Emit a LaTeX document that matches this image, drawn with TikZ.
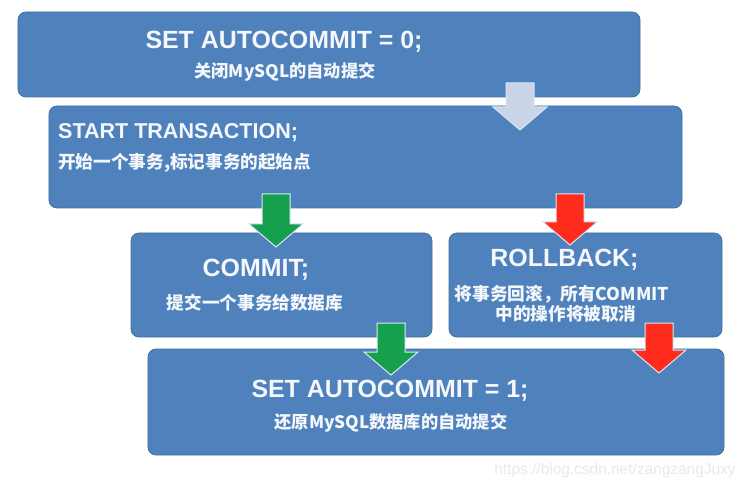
\documentclass[tikz,border=0pt]{standalone}
\usepackage{fontspec}
\setmainfont{Liberation Sans}
\newfontfamily\cjk{Noto Sans CJK SC}
\usepackage{xcolor}
\definecolor{cBox}{HTML}{4F81BD}
\definecolor{cBoxEdge}{HTML}{41709F}
\definecolor{cText}{HTML}{F4F7FB}
\definecolor{cGo}{HTML}{16A04E}
\definecolor{cStop}{HTML}{FF2B1C}
\definecolor{cNext}{HTML}{C9D4E6}
\definecolor{cRim}{HTML}{DDE7F3}
\definecolor{cMark}{HTML}{E9E9E9}
\usetikzlibrary{calc}
\tikzset{
  node-box/.style={draw=cBoxEdge,line width=0.8bp,fill=cBox,rounded corners=8bp,
    inner sep=0pt,outer sep=0pt},
  node-title/.style={text=cText,anchor=base,inner sep=0pt,
    font=\bfseries\fontsize{25}{30}\selectfont},
  node-sub/.style={text=cText,anchor=base,inner sep=0pt,
    font=\cjk\bfseries\fontsize{17.7}{20}\selectfont},
  node-mark/.style={text=cMark,anchor=base,inner sep=0pt,
    font=\fontsize{15.5}{18}\selectfont},
  arrow-block/.style={draw=cRim,line width=1bp,line join=miter},
}
% block arrow: colour, x, from box, to box, depth of the tip in the target box
\newcommand\flowarrow[5]{%
  \path[arrow-block,fill=#1] let \p1=(#3.south), \p2=(#4.north) in
    (#2bp-14bp,\y1+14bp) -- (#2bp+14bp,\y1+14bp) -- (#2bp+14bp,\y2-#5bp+23bp)
    -- (#2bp+27bp,\y2-#5bp+23bp) -- (#2bp,\y2-#5bp) -- (#2bp-27bp,\y2-#5bp+23bp)
    -- (#2bp-14bp,\y2-#5bp+23bp) -- cycle;}

\begin{document}
\begin{tikzpicture}[x=1bp,y=-1bp]
  \path[fill=white,use as bounding box] (0,0) rectangle (749,488);
  % boxes
  \node[node-box,minimum width=622bp,minimum height=85bp]  (set0)     at (329,54.5)  {};
  \node[node-box,minimum width=633bp,minimum height=102bp] (start)    at (365.5,157) {};
  \node[node-box,minimum width=301bp,minimum height=104bp] (commit)   at (281.5,285) {};
  \node[node-box,minimum width=273bp,minimum height=104bp] (rollback) at (585.5,285) {};
  \node[node-box,minimum width=576bp,minimum height=106bp] (set1)     at (436,402)   {};
  % arrows
  \flowarrow{cNext}{520}{set0}{start}{24}
  \flowarrow{cGo}{276}{start}{commit}{14}
  \flowarrow{cStop}{570}{start}{rollback}{12}
  \flowarrow{cGo}{391}{commit}{set1}{26}
  \flowarrow{cStop}{659}{rollback}{set1}{24}
  % texts
  \node[node-title] (set0-t) at (284,49) {SET AUTOCOMMIT = 0;};
  \node[node-sub,font=\cjk\bfseries\fontsize{17.3}{20}\selectfont] (set0-s) at (285,78) {关闭MySQL的自动提交};
  \node[node-title,anchor=base west,font=\bfseries\fontsize{21.6}{26}\selectfont] (start-t) at (58,139) {START TRANSACTION;};
  \node[node-sub,anchor=base west] (start-s) at (58,169) {开始一个事务,标记事务的起始点};
  \node[node-title] (commit-t) at (256,277) {COMMIT;};
  \node[node-sub] (commit-s) at (255,309) {提交一个事务给数据库};
  \node[node-title] (rollback-t) at (564.5,267) {ROLLBACK;};
  \node[node-sub] (rollback-s1) at (562,300) {将事务回滚，所有COMMIT};
  \node[node-sub] (rollback-s2) at (566,320) {中的操作将被取消};
  \node[node-title] (set1-t) at (390,397) {SET AUTOCOMMIT = 1;};
  \node[node-sub,font=\cjk\bfseries\fontsize{17.3}{20}\selectfont] (set1-s) at (391,428) {还原MySQL数据库的自动提交};
  \node[node-mark] (mark) at (615,474) {https://blog.csdn.net/zangzangJuxy};
\end{tikzpicture}
\end{document}
